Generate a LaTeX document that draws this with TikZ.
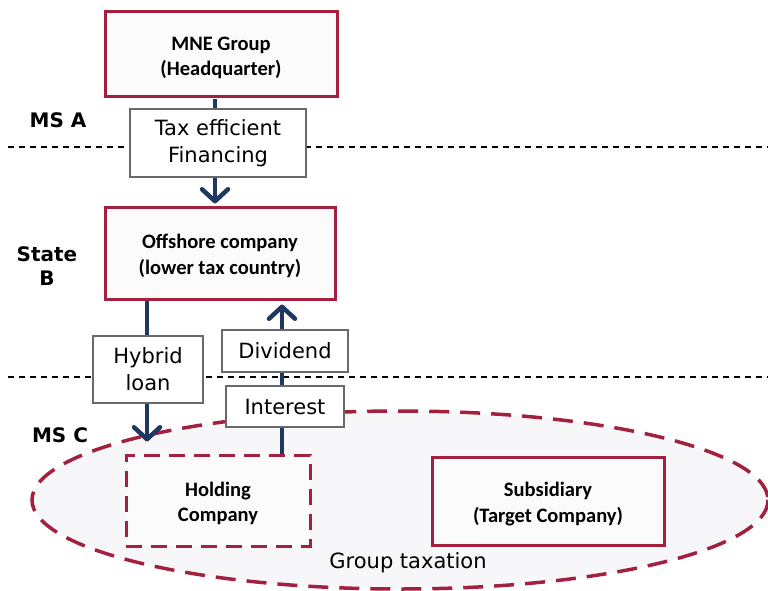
\documentclass[tikz,border=0pt]{standalone}
\usepackage{fontspec}
\setmainfont{DejaVu Sans}
\newfontfamily\cbfont{Carlito}
\usetikzlibrary{arrows.meta}
\definecolor{crim}{RGB}{163,33,63}
\definecolor{navy}{RGB}{31,56,96}
\definecolor{ellfill}{RGB}{247,247,250}
\definecolor{boxfill}{RGB}{251,251,251}
\definecolor{labgray}{RGB}{105,105,105}
\newcommand\tallstrut{\rule{0pt}{20pt}}
\tikzset{
  entity/.style={draw=crim, line width=3pt, fill=boxfill, inner sep=0pt, align=center,
     font=\cbfont\bfseries\fontsize{20.5}{25.5}\selectfont},
  dentity/.style={entity, dash pattern=on 16pt off 9pt},
  lab/.style={draw=labgray, line width=1.5pt, fill=white, inner sep=0pt, align=center,
     font=\fontsize{21}{27}\selectfont},
  flow/.style={draw=navy, line width=4.5pt, -{Straight Barb[length=12pt,width=26pt,line width=4.5pt,round]}},
  border/.style={draw=black, line width=1.3pt, dash pattern=on 6pt off 5pt},
  region/.style={font=\bfseries\fontsize{20}{24}\selectfont, align=center}
}
\begin{document}
\begin{tikzpicture}[x=1pt,y=-1pt]
\useasboundingbox (0,0) rectangle (768,591);
% group taxation ellipse
\begin{scope}
\clip (0,0) rectangle (768,591);
\draw[draw=crim, fill=ellfill, line width=3.5pt, dash pattern=on 20pt off 11pt] (400,500) ellipse [x radius=368, y radius=89];
\end{scope}
% dashed borders
\coordinate (b1l) at (8,147);
\coordinate (b1r) at (768,147);
\coordinate (b2l) at (8,377);
\coordinate (b2r) at (768,377);
\draw[border] (b1l) -- (b1r);
\draw[border] (b2l) -- (b2r);
% entities
\node[entity, minimum width=232pt, minimum height=85pt] (mne) at (221,54.5) {\tallstrut MNE Group\\(Headquarter)};
\node[entity, minimum width=230pt, minimum height=92pt] (off) at (220,253) {\tallstrut Offshore company\\(lower tax country)};
\node[dentity, minimum width=184pt, minimum height=91pt] (hold) at (218,500.5) {\tallstrut Holding\\Company};
\node[entity, minimum width=232pt, minimum height=88pt] (sub) at (548,501) {\tallstrut Subsidiary\\(Target Company)};
% arrow positions
\coordinate (xa) at (215,0);
\coordinate (xb) at (147,0);
\coordinate (xc) at (282,0);
% flows
\draw[flow, shorten <=1pt, shorten >=2pt] (mne.south -| xa) -- (off.north -| xa);
\draw[flow, shorten >=12pt] (off.south -| xb) -- (hold.north -| xb);
\draw[flow, shorten >=4pt] (hold.north -| xc) -- (off.south -| xc);
% labels
\node[lab, minimum width=176pt, minimum height=68pt] (tef) at (218,143) {Tax efficient\\Financing};
\node[lab, minimum width=110pt, minimum height=67pt] (hyb) at (148,369.5) {Hybrid\\loan};
\node[lab, minimum width=126pt, minimum height=42pt] (div) at (285,351) {Dividend};
\node[lab, minimum width=118pt, minimum height=41pt] (int) at (285,406.5) {Interest};
% region labels
\node[region] (msa) at (58,120) {MS A};
\node[region] (stb) at (47,266) {State\\B};
\node[region] (msc) at (60,435) {MS C};
\node[font=\fontsize{21}{24}\selectfont] (gt) at (408,563) {Group taxation};
\end{tikzpicture}
\end{document}
